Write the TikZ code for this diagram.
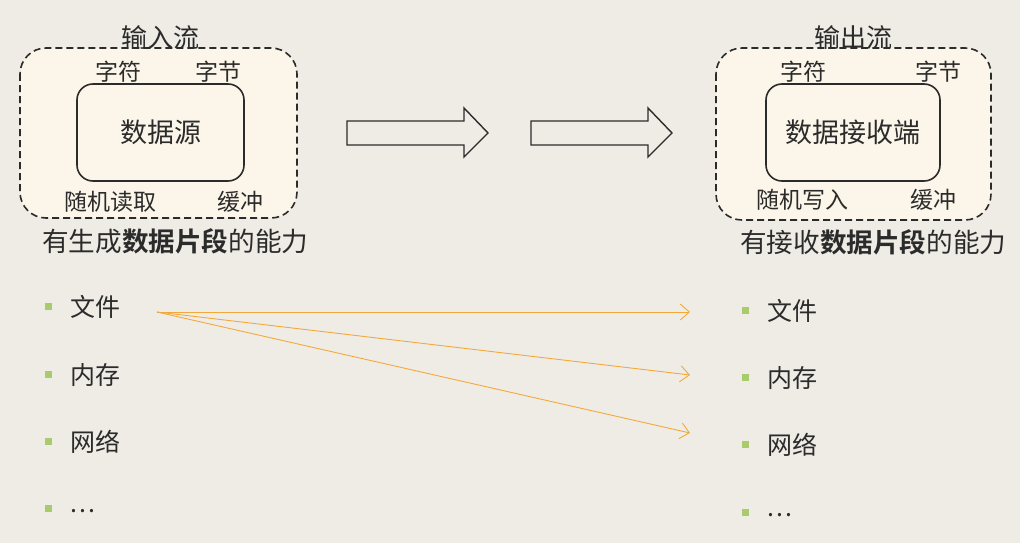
\documentclass[tikz,border=0pt]{standalone}
\usepackage{fontspec}
\setmainfont{Noto Sans CJK SC}[BoldFont={Noto Sans CJK SC Bold}]
\usetikzlibrary{arrows.meta}
\definecolor{bgc}{HTML}{EFECE6}
\definecolor{boxc}{HTML}{FBF6E9}
\definecolor{txt}{HTML}{2B2B2B}
\definecolor{bul}{HTML}{A8CC6C}
\definecolor{orc}{HTML}{F5A83A}
\tikzset{
  outerbox/.style={draw=txt, line width=1.6pt, dash pattern=on 7pt off 4pt, rounded corners=26pt, fill=boxc},
  innerbox/.style={draw=txt, line width=1.6pt, rounded corners=16pt, fill=boxc},
  lbl/.style={text=txt, font=\fontsize{23}{25}\selectfont, inner sep=0pt},
  ttl/.style={text=txt, font=\fontsize{26}{28}\selectfont, inner sep=0pt},
  ctr/.style={text=txt, font=\fontsize{27}{29}\selectfont, inner sep=0pt},
  captxt/.style={text=txt, font=\fontsize{26.6}{29}\selectfont, inner sep=0pt},
  item/.style={text=txt, font=\fontsize{25}{27}\selectfont, inner sep=0pt, anchor=west},
  bulsq/.style={fill=bul, minimum size=7pt, inner sep=0pt},
  bigarrow/.style={draw=txt, line width=1.4pt, fill=bgc, line join=miter},
  flow/.style={draw=orc, line width=0.9pt, -{Straight Barb[length=9pt,width=16pt]}}
}
\begin{document}
\begin{tikzpicture}[x=1pt,y=-1pt]
\fill[bgc] (0,0) rectangle (1020,543);
\useasboundingbox (0,0) rectangle (1020,543);
% left
\draw[outerbox] (20,48) rectangle (297,218);
\node[innerbox, minimum width=167pt, minimum height=97pt] (src) at (160.5,132.5) {};
\node[ctr] (srct) at (src.center) {数据源};
\node[ttl] (inst) at (160,38) {输入流};
\node[lbl] (l1) at (118,72) {字符};
\node[lbl] (l2) at (218,72) {字节};
\node[lbl] (l3) at (110,202) {随机读取};
\node[lbl] (l4) at (240,202) {缓冲};
\node[captxt, anchor=west] (capl) at (42,241) {有生成\textbf{数据片段}的能力};
% right
\draw[outerbox] (716,48) rectangle (991,220);
\node[innerbox, minimum width=174pt, minimum height=97pt] (dst) at (853,132.5) {};
\node[ctr] (dstt) at (dst.center) {数据接收端};
\node[ttl] (outst) at (853,38) {输出流};
\node[lbl] (r1) at (803,72) {字符};
\node[lbl] (r2) at (938,72) {字节};
\node[lbl] (r3) at (802,200) {随机写入};
\node[lbl] (r4) at (933,200) {缓冲};
\node[captxt, anchor=west] (capr) at (740,242) {有接收\textbf{数据片段}的能力};
% big arrows
\draw[bigarrow] (347,121) -- (464,121) -- (464,108) -- (488,133) -- (464,157) -- (464,145) -- (347,145) -- cycle;
\draw[bigarrow] (531,121) -- (648,121) -- (648,108) -- (672,133) -- (648,157) -- (648,145) -- (531,145) -- cycle;
% left list
\node[bulsq] (bl1) at (48,306) {};
\node[bulsq] (bl2) at (48,374) {};
\node[bulsq] (bl3) at (48,441) {};
\node[bulsq] (bl4) at (48,508) {};
\node[item] (il1) at (70,307) {文件};
\node[item] (il2) at (70,375) {内存};
\node[item] (il3) at (70,442) {网络};
\node[item] (il4) at (70,511) {.\hspace{2pt}.\hspace{2pt}.};
% right list
\node[bulsq] (br1) at (745,310) {};
\node[bulsq] (br2) at (745,377) {};
\node[bulsq] (br3) at (745,444) {};
\node[bulsq] (br4) at (745,512) {};
\node[item] (ir1) at (767,311) {文件};
\node[item] (ir2) at (767,378) {内存};
\node[item] (ir3) at (767,445) {网络};
\node[item] (ir4) at (767,515) {.\hspace{2pt}.\hspace{2pt}.};
% flows
\coordinate (fs) at (157,312);
\coordinate (t1) at (690,312);
\coordinate (t2) at (690,375);
\coordinate (t3) at (690,433);
\draw[flow] (fs) -- (t1);
\draw[flow] (fs) -- (t2);
\draw[flow] (fs) -- (t3);
\end{tikzpicture}
\end{document}
